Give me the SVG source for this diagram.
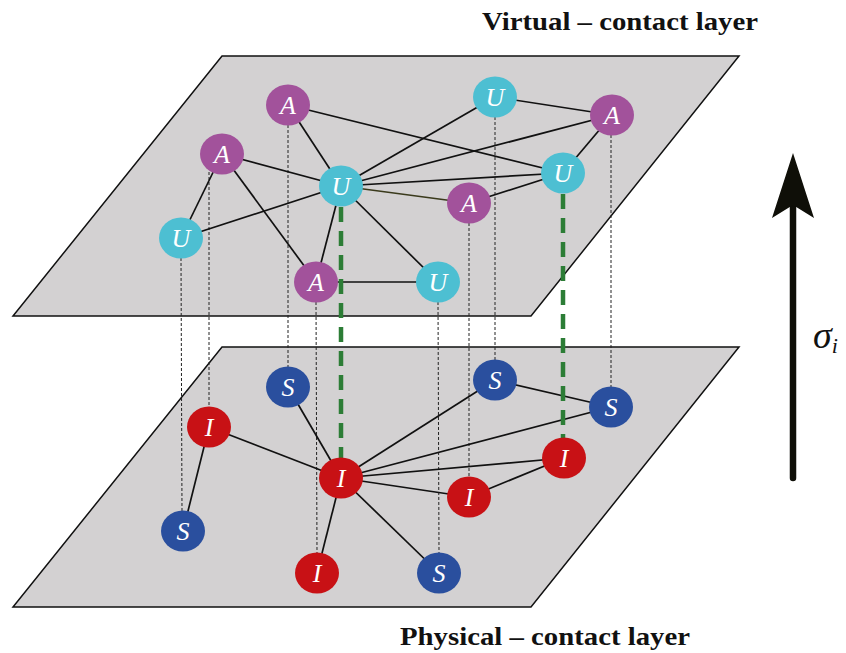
<svg xmlns="http://www.w3.org/2000/svg" width="846" height="653" viewBox="0 0 846 653">
<style>
.plane{fill:#d3d1d2;stroke:#111;stroke-width:1.5}
.e{stroke:#111;stroke-width:1.7;fill:none}
.v{stroke:#222;stroke-width:1;stroke-dasharray:3 2;fill:none}
.g{stroke:#2c7d36;stroke-width:4.5;stroke-dasharray:15 9;fill:none}
.A{fill:#a2529b}.U{fill:#4dbfd2}.I{fill:#c81115}.S{fill:#2a4f9e}
.lbl{font-family:"Liberation Serif",serif;font-style:italic;font-size:26px;fill:#fff;text-anchor:middle}
.title{font-family:"Liberation Serif",serif;font-weight:bold;font-size:25px;fill:#111}
</style>
<g id="planes">
<polygon class="plane" points="222,56 739,56 531,316 13,316"/>
<polygon class="plane" points="222,347 739,347 531,607 13,607"/>
</g>
<g id="connectors">
<line class="v" x1="181" y1="258" x2="182" y2="511"/>
<line class="v" x1="209" y1="172" x2="209" y2="407"/>
<line class="v" x1="288" y1="125" x2="288" y2="367"/>
<line class="v" x1="316" y1="302" x2="317" y2="553"/>
<line class="v" x1="438" y1="302" x2="439" y2="553"/>
<line class="v" x1="469" y1="223" x2="469" y2="477"/>
<line class="v" x1="495" y1="117" x2="495" y2="360"/>
<line class="v" x1="611" y1="135" x2="611" y2="387"/>
<line class="e" x1="288" y1="105" x2="341" y2="186"/>
<line class="e" x1="288" y1="105" x2="563" y2="173"/>
<line class="e" x1="222" y1="154" x2="341" y2="186"/>
<line class="e" x1="222" y1="154" x2="181" y2="238"/>
<line class="e" x1="222" y1="154" x2="316" y2="282"/>
<line class="e" x1="181" y1="238" x2="341" y2="186"/>
<line class="e" x1="341" y1="186" x2="316" y2="282"/>
<line class="e" x1="341" y1="186" x2="438" y2="282"/>
<line class="e" x1="341" y1="186" x2="495" y2="97"/>
<line class="e" x1="341" y1="186" x2="612" y2="115"/>
<line class="e" x1="341" y1="186" x2="563" y2="173"/>
<line class="e" x1="341" y1="186" x2="469" y2="203" style="stroke:#3a3a1c"/>
<line class="e" x1="469" y1="203" x2="563" y2="173"/>
<line class="e" x1="495" y1="97" x2="612" y2="115"/>
<line class="e" x1="612" y1="115" x2="563" y2="173"/>
<line class="e" x1="316" y1="282" x2="438" y2="282"/>
<line class="e" x1="209" y1="427" x2="183" y2="531"/>
<line class="e" x1="209" y1="427" x2="341" y2="478"/>
<line class="e" x1="288" y1="387" x2="341" y2="478"/>
<line class="e" x1="341" y1="478" x2="317" y2="573"/>
<line class="e" x1="341" y1="478" x2="439" y2="573"/>
<line class="e" x1="341" y1="478" x2="495" y2="380"/>
<line class="e" x1="341" y1="478" x2="611" y2="407"/>
<line class="e" x1="341" y1="478" x2="564" y2="458"/>
<line class="e" x1="341" y1="478" x2="469" y2="497"/>
<line class="e" x1="469" y1="497" x2="564" y2="458"/>
<line class="e" x1="495" y1="380" x2="611" y2="407"/>
<line class="g" x1="341" y1="207" x2="341" y2="458"/>
<line class="g" x1="563" y1="194" x2="563" y2="438"/>
</g>
<g id="nA1"><ellipse class="A" cx="288" cy="105" rx="22" ry="20.5"/><text class="lbl" x="288" y="114">A</text></g>
<g id="nA2"><ellipse class="A" cx="222" cy="154" rx="22" ry="20.5"/><text class="lbl" x="222" y="163">A</text></g>
<g id="nU1"><ellipse class="U" cx="341" cy="186" rx="22" ry="20.5"/><text class="lbl" x="341" y="195">U</text></g>
<g id="nU2"><ellipse class="U" cx="181" cy="238" rx="22" ry="20.5"/><text class="lbl" x="181" y="247">U</text></g>
<g id="nA3"><ellipse class="A" cx="316" cy="282" rx="22" ry="20.5"/><text class="lbl" x="316" y="291">A</text></g>
<g id="nU3"><ellipse class="U" cx="438" cy="282" rx="22" ry="20.5"/><text class="lbl" x="438" y="291">U</text></g>
<g id="nA4"><ellipse class="A" cx="469" cy="203" rx="22" ry="20.5"/><text class="lbl" x="469" y="212">A</text></g>
<g id="nU4"><ellipse class="U" cx="495" cy="97" rx="22" ry="20.5"/><text class="lbl" x="495" y="106">U</text></g>
<g id="nA5"><ellipse class="A" cx="612" cy="115" rx="22" ry="20.5"/><text class="lbl" x="612" y="124">A</text></g>
<g id="nU5"><ellipse class="U" cx="563" cy="173" rx="22" ry="20.5"/><text class="lbl" x="563" y="182">U</text></g>
<g id="nS1"><ellipse class="S" cx="288" cy="387" rx="22" ry="20.5"/><text class="lbl" x="288" y="396">S</text></g>
<g id="nI1"><ellipse class="I" cx="209" cy="427" rx="22" ry="20.5"/><text class="lbl" x="209" y="436">I</text></g>
<g id="nS2"><ellipse class="S" cx="183" cy="531" rx="22" ry="20.5"/><text class="lbl" x="183" y="540">S</text></g>
<g id="nI2"><ellipse class="I" cx="341" cy="478" rx="22" ry="20.5"/><text class="lbl" x="341" y="487">I</text></g>
<g id="nI3"><ellipse class="I" cx="317" cy="573" rx="22" ry="20.5"/><text class="lbl" x="317" y="582">I</text></g>
<g id="nS3"><ellipse class="S" cx="439" cy="573" rx="22" ry="20.5"/><text class="lbl" x="439" y="582">S</text></g>
<g id="nI4"><ellipse class="I" cx="469" cy="497" rx="22" ry="20.5"/><text class="lbl" x="469" y="506">I</text></g>
<g id="nS4"><ellipse class="S" cx="495" cy="380" rx="22" ry="20.5"/><text class="lbl" x="495" y="389">S</text></g>
<g id="nS5"><ellipse class="S" cx="611" cy="407" rx="22" ry="20.5"/><text class="lbl" x="611" y="416">S</text></g>
<g id="nI5"><ellipse class="I" cx="564" cy="458" rx="22" ry="20.5"/><text class="lbl" x="564" y="467">I</text></g>
<g id="arrow">
<line x1="793" y1="478" x2="793" y2="200" stroke="#0f0f08" stroke-width="6.5" stroke-linecap="round"/>
<polygon points="793,153 814,218 793,205 772,218" fill="#0f0f08"/>
</g>
<g id="labels">
<text class="title" x="482" y="30" textLength="276" lengthAdjust="spacingAndGlyphs">Virtual – contact layer</text>
<text class="title" x="400" y="645" textLength="290" lengthAdjust="spacingAndGlyphs">Physical – contact layer</text>
<text x="813" y="348" font-family="Liberation Serif,serif" font-style="italic" font-size="38" fill="#111">σ<tspan font-size="22" dy="5">i</tspan></text>
</g>
</svg>
